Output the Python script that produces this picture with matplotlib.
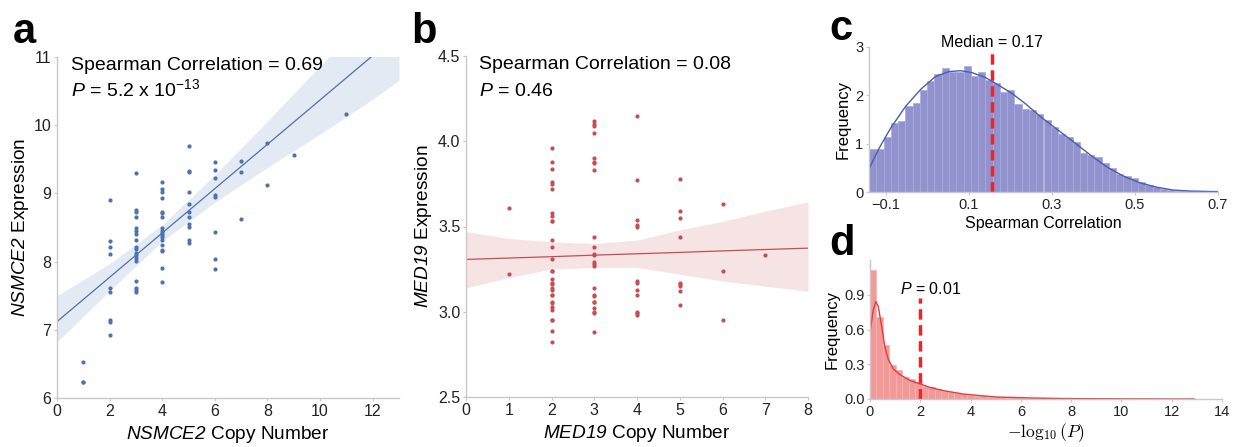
import numpy as np
import matplotlib
matplotlib.use("Agg")
import matplotlib.pyplot as plt

plt.rcParams['font.family'] = ['Liberation Sans', 'DejaVu Sans']
# italic gene names: mathtext would set digits upright, so use italic for both
plt.rcParams['mathtext.fontset'] = 'custom'
plt.rcParams['mathtext.rm'] = 'Liberation Sans:italic'
plt.rcParams['mathtext.it'] = 'Liberation Sans:italic'

# ---- panel a: NSMCE2 copy number vs expression ----
a_x = ([1, 1, 1] + [2] * 9 + [3] * 18 + [4] * 18 + [5] * 11 + [6] * 8
       + [7] * 3 + [8] * 2 + [9] + [11])
a_y = ([6.53, 6.24, 6.24,
        8.90, 8.30, 8.22, 8.11, 7.62, 7.56, 7.14, 7.11, 6.93,
        9.30, 8.76, 8.72, 8.66, 8.50, 8.45, 8.41, 8.31, 8.22, 8.18, 8.13, 8.10,
        8.06, 8.01, 7.71, 7.61, 7.59, 7.56,
        9.16, 9.06, 9.02, 8.93, 8.73, 8.71, 8.65, 8.49, 8.45, 8.42, 8.39, 8.36,
        8.32, 8.24, 8.17, 8.15, 7.90, 7.70,
        9.70, 9.33, 9.31, 9.02, 8.85, 8.72, 8.66, 8.55, 8.51, 8.32, 8.28,
        9.46, 9.34, 9.23, 8.98, 8.94, 8.43, 8.04, 7.89,
        9.47, 9.32, 8.62,
        9.74, 9.12,
        9.56,
        10.16])
# regression line and 95% band
a_fit_x = [0, 2, 4, 6, 8, 10, 12, 13]
a_fit_y = [7.12, 7.77, 8.42, 9.07, 9.72, 10.37, 11.02, 11.35]
a_band_lo = [6.82, 7.57, 8.30, 8.87, 9.38, 9.87, 10.38, 10.66]
a_band_hi = [7.50, 7.97, 8.54, 9.27, 10.06, 10.87, 11.66, 12.05]

# ---- panel b: MED19 copy number vs expression ----
b_x = ([1] * 2 + [2] * 30 + [3] * 24 + [4] * 12 + [5] * 9 + [6] * 3 + [7])
b_y = ([3.61, 3.22,
        3.96, 3.88, 3.84, 3.76, 3.75, 3.72, 3.58, 3.56, 3.53, 3.53, 3.42, 3.38,
        3.31, 3.24, 3.24, 3.19, 3.17, 3.16, 3.14, 3.13, 3.10, 3.10, 3.06, 3.05,
        3.03, 3.01, 2.95, 2.95, 2.89, 2.82,
        4.12, 4.10, 4.09, 4.05, 3.90, 3.88, 3.87, 3.83, 3.44, 3.38, 3.34, 3.33,
        3.29, 3.28, 3.27, 3.14, 3.10, 3.09, 3.06, 3.06, 3.02, 3.00, 2.99, 2.88,
        4.15, 3.77, 3.54, 3.51, 3.50, 3.18, 3.17, 3.13, 3.10, 3.00, 2.99, 2.98,
        3.78, 3.59, 3.55, 3.44, 3.17, 3.16, 3.15, 3.12, 3.04,
        3.63, 3.24, 2.95,
        3.33])
b_fit_x = [0, 1, 2, 3, 4, 5, 6, 7, 8]
b_fit_y = [3.307, 3.315, 3.323, 3.332, 3.340, 3.348, 3.357, 3.365, 3.373]
b_band_lo = [3.14, 3.20, 3.25, 3.26, 3.26, 3.22, 3.18, 3.15, 3.12]
b_band_hi = [3.47, 3.43, 3.41, 3.40, 3.42, 3.48, 3.53, 3.59, 3.645]

# ---- panel c: histogram of Spearman correlations (density) ----
c_bin_start = -0.14
c_bin_width = 0.0175
c_heights = [0.89, 0.89, 1.14, 1.43, 1.46, 1.77, 1.85, 2.12, 2.29, 2.45, 2.56, 2.49,
             2.49, 2.61, 2.39, 2.49, 2.32, 2.25, 2.06, 2.12, 1.83, 1.71, 1.70, 1.61,
             1.48, 1.35, 1.20, 1.14, 1.04, 0.81, 0.77, 0.72, 0.61, 0.49, 0.37, 0.33,
             0.28, 0.21, 0.145, 0.11, 0.06, 0.04, 0.03, 0.02, 0.015, 0.01, 0.01, 0.01]
c_kde_x = [-0.14, -0.116, -0.088, -0.052, -0.016, 0.02, 0.052, 0.08, 0.108, 0.14,
           0.172, 0.204, 0.236, 0.274, 0.312, 0.352, 0.392, 0.432, 0.472, 0.512,
           0.552, 0.592, 0.632, 0.70]
c_kde_y = [0.48, 0.90, 1.32, 1.77, 2.12, 2.39, 2.49, 2.51, 2.47, 2.37,
           2.21, 2.04, 1.83, 1.55, 1.30, 1.04, 0.77, 0.52, 0.33, 0.19,
           0.10, 0.04, 0.02, 0.007]
c_median_pos = 0.156

# ---- panel d: histogram of -log10(P) (density) ----
d_bin_width = 0.258
d_heights = [1.115, 0.712, 0.47, 0.29, 0.25, 0.19, 0.17, 0.15, 0.115, 0.10, 0.085,
             0.07, 0.058, 0.05, 0.04, 0.035, 0.03, 0.025, 0.02, 0.018, 0.015, 0.012,
             0.010, 0.009, 0.008, 0.007, 0.006, 0.005, 0.005, 0.004, 0.004, 0.003,
             0.003, 0.003, 0.002, 0.002, 0.002, 0.002, 0.001, 0.001, 0.001, 0.001,
             0.001, 0.001, 0.001, 0.001, 0.001, 0.001, 0.001, 0.001]
d_kde_x = [0.0, 0.13, 0.23, 0.33, 0.46, 0.60, 0.73, 0.93, 1.19, 1.59, 1.99, 2.39,
           2.92, 3.71, 4.38, 5.04, 6.37, 7.69, 10.3, 12.9]
d_kde_y = [0.57, 0.77, 0.84, 0.80, 0.63, 0.44, 0.34, 0.26, 0.21, 0.16, 0.13, 0.10,
           0.072, 0.043, 0.029, 0.017, 0.009, 0.004, 0.001, 0.0]
d_thresh = 2.0

W, H = 1240, 447
fig = plt.figure(figsize=(W / 100, H / 100), dpi=100)


def box(l, t, r, b):
    return [l / W, 1 - b / H, (r - l) / W, (b - t) / H]


def style(ax, tick_size=11.5):
    for s in ['top', 'right']:
        ax.spines[s].set_visible(False)
    for s in ['left', 'bottom']:
        ax.spines[s].set_color('#c8c8c8')
        ax.spines[s].set_linewidth(1.0)
    ax.tick_params(length=2, width=0.8, color='#c8c8c8', labelsize=tick_size,
                   pad=2, labelcolor='#222222')


def regplot(ax, x, y, fx, fy, lo, hi, color):
    ax.fill_between(fx, lo, hi, color=color, alpha=0.15, lw=0)
    ax.plot(fx, fy, color=color, lw=0.9)
    ax.scatter(x, y, s=9, color=color, lw=0, zorder=3)


# panel a
ax = fig.add_axes(box(57, 57, 399, 398))
regplot(ax, a_x, a_y, a_fit_x, a_fit_y, a_band_lo, a_band_hi, '#4c72b0')
ax.set_xlim(0, 13)
ax.set_ylim(6, 11)
ax.set_xticks(range(0, 13, 2))
ax.set_yticks(range(6, 12))
style(ax)
ax.set_xlabel(r'$NSMCE2$ Copy Number', fontsize=13.7, labelpad=4)
ax.set_ylabel(r'$NSMCE2$ Expression', fontsize=13.7, labelpad=2)
ax.text(0.041, 0.962, 'Spearman Correlation = 0.69', transform=ax.transAxes,
        fontsize=14, va='baseline')
ax.text(0.041, 0.884, r'$P$ = 5.2 x 10$^{\mathregular{-13}}$',
        transform=ax.transAxes, fontsize=14, va='baseline')

# panel b
ax = fig.add_axes(box(466, 56, 808, 397))
regplot(ax, b_x, b_y, b_fit_x, b_fit_y, b_band_lo, b_band_hi, '#c44e52')
ax.set_xlim(0, 8)
ax.set_ylim(2.5, 4.5)
ax.set_xticks(range(0, 9))
ax.set_yticks([2.5, 3.0, 3.5, 4.0, 4.5])
ax.set_yticklabels(['2.5', '3.0', '3.5', '4.0', '4.5'])
style(ax)
ax.set_xlabel(r'$MED19$ Copy Number', fontsize=13.7, labelpad=4)
ax.set_ylabel(r'$MED19$ Expression', fontsize=13.7, labelpad=3)
ax.text(0.038, 0.962, 'Spearman Correlation = 0.08', transform=ax.transAxes,
        fontsize=14, va='baseline')
ax.text(0.038, 0.883, r'$P$ = 0.46', transform=ax.transAxes,
        fontsize=14, va='baseline')

# panel c
ax = fig.add_axes(box(869, 47, 1218, 192))
c_left = c_bin_start + c_bin_width * np.arange(len(c_heights))
ax.bar(c_left, c_heights, width=c_bin_width, align='edge', color='#9192ce',
       edgecolor='#a9aadb', lw=0.5)
ax.plot(c_kde_x, c_kde_y, color='#4a5cb5', lw=1.0)
ax.plot([c_median_pos, c_median_pos], [0, 2.9], color='#e8262b', lw=2.5,
        ls=(0, (3, 1.6)))
ax.text(c_median_pos, 3.0, 'Median = 0.17', ha='center', va='baseline', fontsize=11.5)
ax.set_xlim(-0.14, 0.7)
ax.set_ylim(0, 3)
ax.set_xticks([-0.1, 0.1, 0.3, 0.5, 0.7])
ax.set_xticklabels(['\u22120.1', '0.1', '0.3', '0.5', '0.7'])
ax.set_yticks([0, 1, 2, 3])
style(ax, 10.5)
ax.set_xlabel('Spearman Correlation', fontsize=11.5, labelpad=3)
ax.set_ylabel('Frequency', fontsize=12, labelpad=3)

# panel d
ax = fig.add_axes(box(870, 260, 1222, 399))
d_left = d_bin_width * np.arange(len(d_heights))
ax.bar(d_left, d_heights, width=d_bin_width, align='edge', color='#f29a9a',
       edgecolor='#f5b3b3', lw=0.5)
ax.plot(d_kde_x, d_kde_y, color='#e8393c', lw=1.0)
ax.plot([d_thresh, d_thresh], [0, 0.875], color='#e8262b', lw=2.5,
        ls=(0, (3, 1.6)))
ax.text(1.19, 0.908, r'$P$ = 0.01', ha='left', va='baseline', fontsize=11.5)
ax.set_xlim(0, 14)
ax.set_ylim(0, 1.2)
ax.set_xticks(range(0, 15, 2))
ax.set_yticks([0.0, 0.3, 0.6, 0.9])
ax.set_yticklabels(['0.0', '0.3', '0.6', '0.9'])
style(ax, 10.5)
ax.set_xlabel(r'$-\log_{10}(P)$', fontsize=12.6, labelpad=2, math_fontfamily='cm')
ax.set_ylabel('Frequency', fontsize=12, labelpad=3)

# panel letters
for lx, ly, lab in [(13, 43, 'a'), (411, 43, 'b'), (829, 40, 'c'), (829, 255, 'd')]:
    fig.text(lx / W, 1 - ly / H, lab, fontsize=30, weight='bold',
             family=['Liberation Sans', 'DejaVu Sans'], va='baseline')

fig.savefig('out.png', dpi=100)
